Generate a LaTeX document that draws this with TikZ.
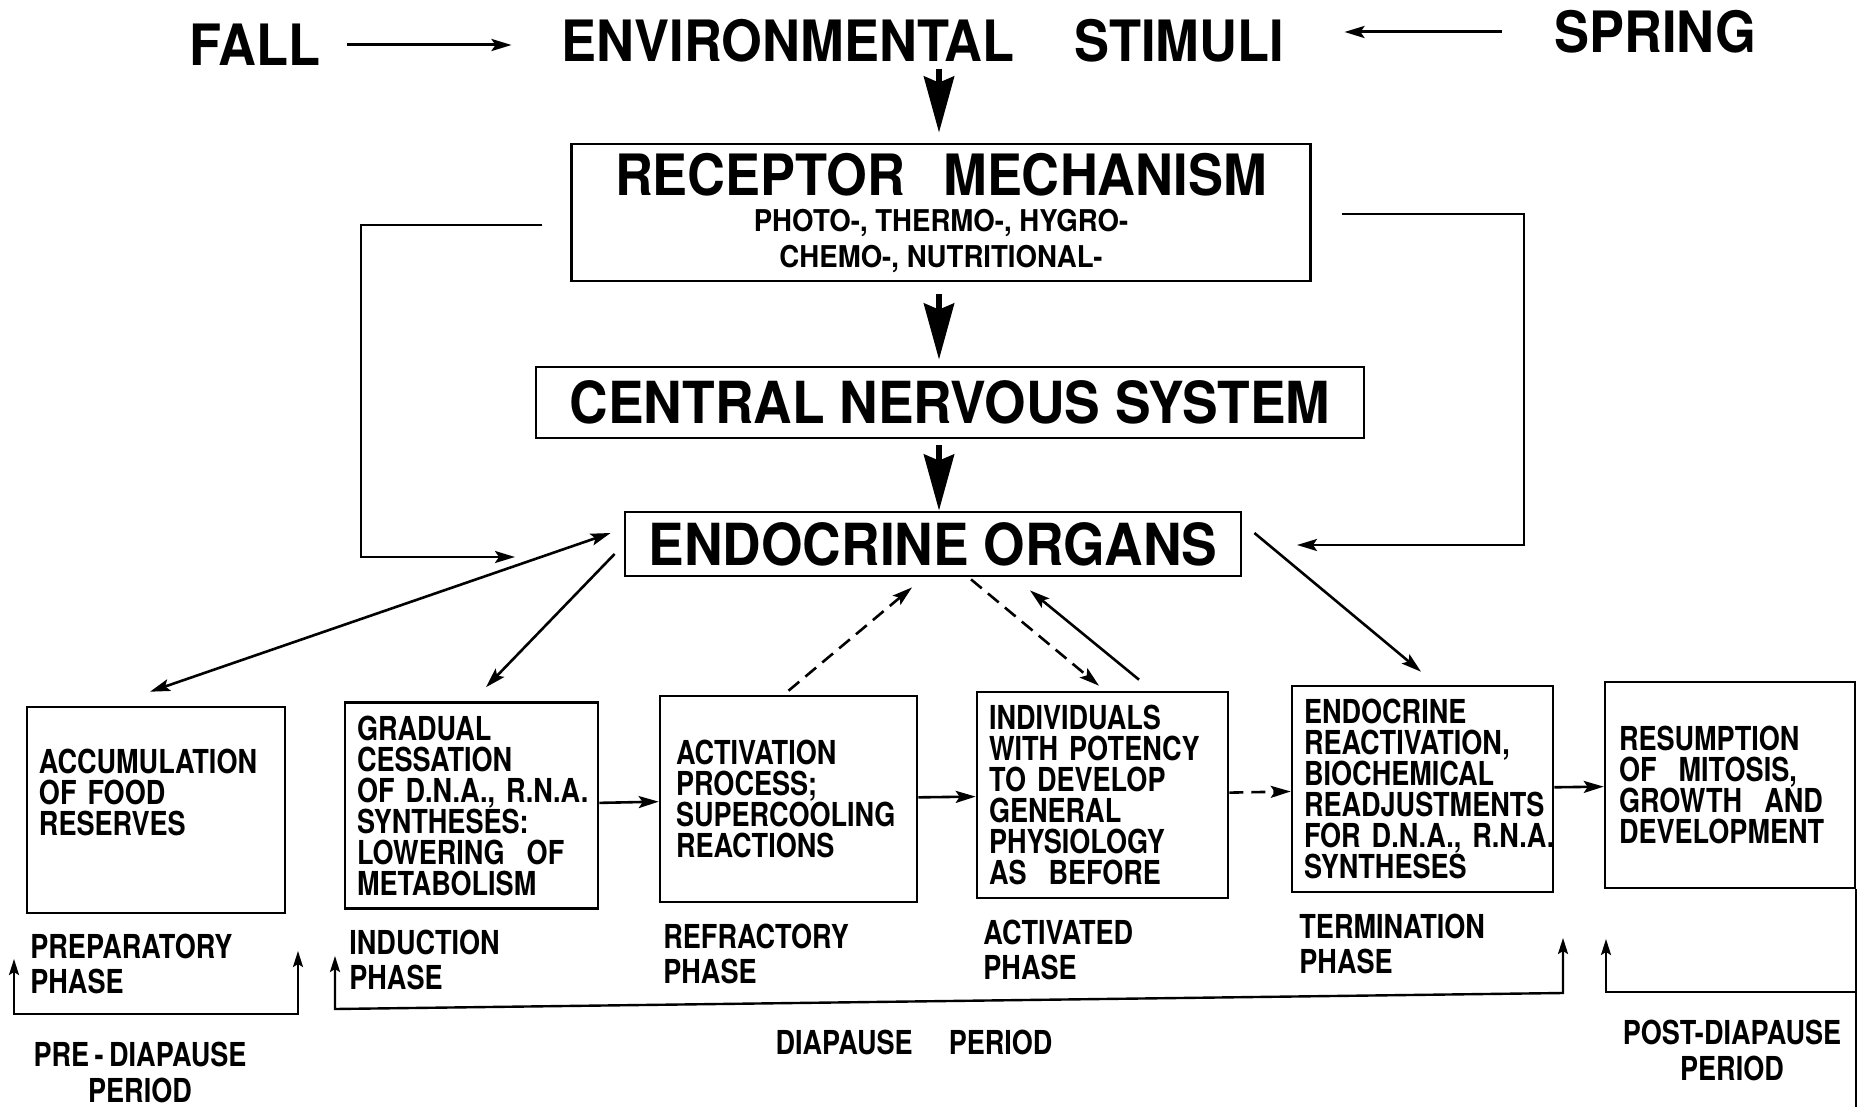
\documentclass[tikz,border=0pt]{standalone}
\usepackage{fontspec}
\setmainfont{TeX Gyre Heros}
\newfontfamily\headfont{TeX Gyre Heros}[FakeStretch=0.92]
\newfontfamily\boxfont{TeX Gyre Heros}[FakeStretch=0.82]
\usetikzlibrary{arrows.meta,positioning}

\begin{document}
\begin{tikzpicture}[x=0.5pt,y=-0.5pt,
    head/.style={inner sep=0pt,font=\headfont\bfseries\fontsize{28.5}{30}\selectfont},
    organ/.style={draw,line width=1.4pt,inner sep=0pt,align=center,font=\headfont\bfseries\fontsize{29}{30}\selectfont},
    phasebox/.style={draw,line width=1.3pt,minimum height=103pt,inner xsep=6pt,align=left,font=\boxfont\bfseries\fontsize{16.5}{15.5}\selectfont},
    phaselabel/.style={anchor=west,align=left,inner sep=0pt,font=\boxfont\bfseries\fontsize{16.5}{17.5}\selectfont},
    period/.style={align=center,inner sep=0pt,font=\boxfont\bfseries\fontsize{16.5}{18}\selectfont},
    bigarrow/.style={line width=3pt,-{Stealth[length=28pt,width=15pt,inset=3pt]}},
    arr/.style={line width=1.3pt,-{Stealth[length=10pt,width=6pt,inset=2pt]}},
    twoarr/.style={line width=1.3pt,{Stealth[length=10pt,width=6pt,inset=2pt]}-{Stealth[length=10pt,width=6pt,inset=2pt]}},
    brack/.style={line width=1.2pt,{Stealth[length=8pt,width=5pt,inset=1.5pt]}-{Stealth[length=8pt,width=5pt,inset=1.5pt]}},
    post/.style={line width=1.2pt,-{Stealth[length=8pt,width=5pt,inset=1.5pt]}},
    dashline/.style={dash pattern=on 7pt off 4pt}]
  \useasboundingbox (0,0) rectangle (1857,1107);
  \fill[white] (0,0) rectangle (1857,1107);
  \coordinate (axis) at (939,0);

  % stimuli
  \node[head] (fall) at (255,45) {FALL};
  \node[head] (stim) at (923,41) {ENVIRONMENTAL\hspace{30pt}STIMULI};
  \node[head] (spring) at (1655,32) {SPRING};
  \draw[arr,line width=1.5pt,shorten <=13pt,shorten >=25pt] (fall.east) -- (fall.east -| stim.west);
  \draw[arr,line width=1.5pt,shorten <=26pt,shorten >=30pt] (spring.west) -- (spring.west -| stim.east);

  % receptor -> cns -> endocrine
  \node[organ,minimum width=369.5pt,minimum height=68.5pt,
        font=\headfont\bfseries\fontsize{15}{18}\selectfont] (recep) at (941,212.5)
    {{\fontsize{28.5}{30}\selectfont RECEPTOR\hspace{19pt}MECHANISM}\\
     PHOTO-, THERMO-, HYGRO-\\ CHEMO-, NUTRITIONAL-};
  \node[organ,minimum width=414pt,minimum height=35.5pt] (cns) at (950,402.5)
    {CENTRAL NERVOUS SYSTEM};
  \node[organ,minimum width=308pt,minimum height=32pt] (endo) at (933,544)
    {ENDOCRINE ORGANS};

  \draw[bigarrow,shorten <=3pt,shorten >=5pt] (stim.south -| axis) -- (recep.north -| axis);
  \draw[bigarrow,shorten <=6pt,shorten >=3pt] (recep.south -| axis) -- (cns.north -| axis);
  \draw[bigarrow,shorten <=3pt] (cns.south -| axis) -- (endo.north -| axis);

  % by-passes
  \coordinate (recL) at (542,225);
  \coordinate (endL) at (515,557);
  \coordinate (recR) at (1342,214);
  \coordinate (endR) at (1297,545);
  \draw[arr] (recL) -| (361,557) -- (endL);
  \draw[arr] (recR) -| (1524,545) -- (endR);

  % phases
  \node[phasebox,text width=117pt] (prep) at (156,810)
    {ACCUMULATION\\OF FOOD\\RESERVES\\[2pt]\mbox{}};
  \node[phasebox,text width=114.5pt] (induc) at (471.5,805.5)
    {GRADUAL\\CESSATION\\OF~D.N.A.,~R.N.A.\\SYNTHESES:\\LOWERING\ \ OF\\METABOLISM};
  \node[phasebox,text width=112.5pt,inner xsep=8pt] (refrac) at (788.5,799)
    {ACTIVATION\\PROCESS;\\SUPERCOOLING\\REACTIONS};
  \node[phasebox,text width=113.5pt] (activ) at (1102.5,795)
    {INDIVIDUALS\\WITH POTENCY\\TO DEVELOP\\GENERAL\\PHYSIOLOGY\\AS\ \ BEFORE};
  \node[phasebox,text width=118.5pt] (termin) at (1422.5,789)
    {ENDOCRINE\\REACTIVATION,\\BIOCHEMICAL\\READJUSTMENTS\\FOR~D.N.A.,~R.N.A.\\SYNTHESES};
  \node[phasebox,text width=111pt,inner xsep=7pt] (resump) at (1730,785)
    {RESUMPTION\\OF\ \ MITOSIS,\\GROWTH\ \ AND\\DEVELOPMENT};
  \draw[line width=1.3pt] (resump.south east) -- (resump.south east |- 0,1107);

  \path[arr] (induc) edge (refrac);
  \path[arr] (refrac) edge (activ);
  \path[arr,dashline] (activ) edge (termin);
  \path[arr] (termin) edge (resump);

  % endocrine <-> phases
  \draw[twoarr] ([shift={(-13,-11)}]endo.west) -- ([shift={(-6,-14)}]prep.north);
  \draw[arr] ([shift={(-9,10)}]endo.west) -- ([shift={(14.5,-14)}]induc.north);
  \draw[arr,dashline] ([shift={(0,-4)}]refrac.north) -- ([shift={(-21,10)}]endo.south);
  \draw[arr,dashline] ([shift={(38,2)}]endo.south) -- ([shift={(-3.5,-5)}]activ.north);
  \draw[arr] ([shift={(36.5,-11)}]activ.north) -- ([shift={(97,13)}]endo.south);
  \draw[arr] ([shift={(12,-11)}]endo.east) -- ([shift={(-1.5,-13)}]termin.north);

  % phase names
  \node[phaselabel] (prepl) at (30,964) {PREPARATORY\\PHASE};
  \node[phaselabel] (inducl) at (349,960) {INDUCTION\\PHASE};
  \node[phaselabel] (refracl) at (663,954) {REFRACTORY\\PHASE};
  \node[phaselabel] (activl) at (983,950) {ACTIVATED\\PHASE};
  \node[phaselabel] (terminl) at (1299,944) {TERMINATION\\PHASE};

  % periods
  \coordinate (preL) at (14,959);
  \coordinate (preR) at (298,951);
  \coordinate (diaL) at (335,956);
  \coordinate (diaR) at (1563,938);
  \coordinate (postL) at (1606,939);
  \coordinate (postR) at (1857,992);
  \draw[brack] (preL) -- ++(0,55) -| (preR);
  \draw[brack] (diaL) -- ++(0,53) -- ++(1228,-16) -- (diaR);
  \draw[post] (postR) -| (postL);

  \node[period] (prepp) at (140,1072) {PRE\,-\,DIAPAUSE\\PERIOD};
  \node[period] (diapp) at (914,1042) {DIAPAUSE\hspace{18pt}PERIOD};
  \node[period] (postp) at (1732,1050) {POST-DIAPAUSE\\PERIOD};
\end{tikzpicture}
\end{document}
